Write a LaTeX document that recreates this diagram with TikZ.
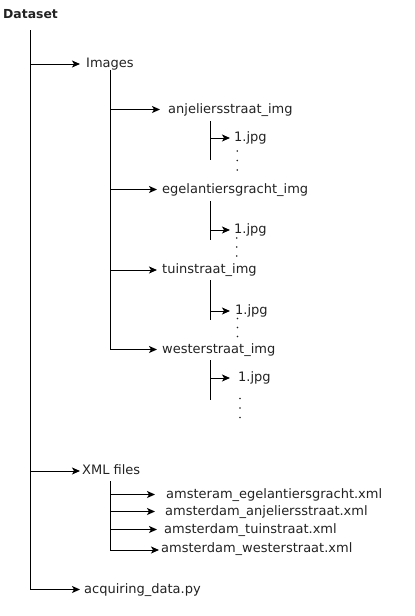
\documentclass[tikz,border=0pt]{standalone}
\usepackage{fontspec}
\setmainfont{DejaVu Sans}
\usetikzlibrary{arrows.meta}
\definecolor{txt}{HTML}{222222}
\tikzset{
  lbl/.style={anchor=west, inner sep=0pt, text height=9.5pt, text depth=2.5pt, text=txt, font=\fontsize{13}{15}\selectfont},
  dotc/.style={circle, fill=txt, inner sep=0pt, minimum size=1.7pt},
  trunk/.style={line width=1pt, draw=black},
  branch/.style={line width=1pt, draw=black, -{Stealth[length=8pt,width=7pt,inset=2pt]}},
}
\begin{document}
\begin{tikzpicture}[x=1pt,y=-1pt]
\useasboundingbox (0,0) rectangle (415,616);
% labels
\node[lbl, font=\fontsize{12.4}{15}\selectfont\bfseries] (dataset) at (3,15) {Dataset};
\node[lbl] (images) at (86,64) {Images};
\node[lbl] (anj) at (168,109.5) {anjeliersstraat\_img};
\node[lbl] (anj1) at (234,138) {1.jpg};
\node[lbl] (egel) at (162,189.5) {egelantiersgracht\_img};
\node[lbl] (egel1) at (234,230) {1.jpg};
\node[lbl] (tuin) at (162,270) {tuinstraat\_img};
\node[lbl] (tuin1) at (235,311) {1.jpg};
\node[lbl] (west) at (162,349.5) {westerstraat\_img};
\node[lbl] (west1) at (238,378) {1.jpg};
\node[lbl] (xml) at (82,471) {XML files};
\node[lbl] (x1) at (166,494.5) {amsteram\_egelantiersgracht.xml};
\node[lbl] (x2) at (165,511.5) {amsterdam\_anjeliersstraat.xml};
\node[lbl] (x3) at (164,529.5) {amsterdam\_tuinstraat.xml};
\node[lbl] (x4) at (161,549) {amsterdam\_westerstraat.xml};
\node[lbl] (acq) at (84,589.5) {acquiring\_data.py};
% vertical dots
\node[dotc] (d11) at (237.3,151) {};
\node[dotc] (d12) at (237.3,160.5) {};
\node[dotc] (d13) at (237.3,170) {};
\node[dotc] (d21) at (236.8,238) {};
\node[dotc] (d22) at (236.8,247) {};
\node[dotc] (d23) at (236.8,256) {};
\node[dotc] (d31) at (237.5,318.5) {};
\node[dotc] (d32) at (237.5,327.5) {};
\node[dotc] (d33) at (237.5,336.5) {};
\node[dotc] (d41) at (240,398.5) {};
\node[dotc] (d42) at (240,408) {};
\node[dotc] (d43) at (240,417.5) {};
% trunk coordinates
\coordinate (t0) at (30,30);
\coordinate (tI) at (30,64);
\coordinate (tX) at (30,471);
\coordinate (tA) at (30,589.5);
\coordinate (i0) at (110,70);
\coordinate (iA) at (110,109.5);
\coordinate (iE) at (110,189.5);
\coordinate (iT) at (110,270);
\coordinate (iW) at (110,349.5);
\coordinate (a0) at (210,121);
\coordinate (a1) at (210,138);
\coordinate (a2) at (210,160);
\coordinate (e0) at (210,201);
\coordinate (e1) at (210,230);
\coordinate (e2) at (210,240);
\coordinate (u0) at (210,280);
\coordinate (u1) at (210,311);
\coordinate (u2) at (210,320);
\coordinate (w0) at (210,360);
\coordinate (w1) at (210,378);
\coordinate (w2) at (210,400);
\coordinate (m0) at (110,481);
\coordinate (m1) at (110,494.5);
\coordinate (m2) at (110,511.5);
\coordinate (m3) at (110,529.5);
\coordinate (m4) at (110,550);
% trunks
\draw[trunk] (t0) -- (tA);
\draw[trunk] (i0) -- (iW);
\draw[trunk] (a0) -- (a2);
\draw[trunk] (e0) -- (e2);
\draw[trunk] (u0) -- (u2);
\draw[trunk] (w0) -- (w2);
\draw[trunk] (m0) -- (m4);
% branches
\draw[branch, shorten >=6pt] (tI) -- (images.west);
\draw[branch, shorten >=8pt] (iA) -- (anj.west);
\draw[branch, shorten >=5pt] (iE) -- (egel.west);
\draw[branch, shorten >=5pt] (iT) -- (tuin.west);
\draw[branch, shorten >=5pt] (iW) -- (west.west);
\draw[branch, shorten >=4pt] (a1) -- (anj1.west);
\draw[branch, shorten >=4pt] (e1) -- (egel1.west);
\draw[branch, shorten >=5pt] (u1) -- (tuin1.west);
\draw[branch, shorten >=8pt] (w1) -- (west1.west);
\draw[branch, shorten >=2pt] (tX) -- (xml.west);
\draw[branch, shorten >=11pt] (m1) -- (x1.west);
\draw[branch, shorten >=10pt] (m2) -- (x2.west);
\draw[branch, shorten >=7pt] (m3) -- (x3.west);
\draw[branch, shorten >=2pt] (m4) -- ([yshift=-1pt]x4.west);
\draw[branch, shorten >=4pt] (tA) -- (acq.west);
\end{tikzpicture}
\end{document}
